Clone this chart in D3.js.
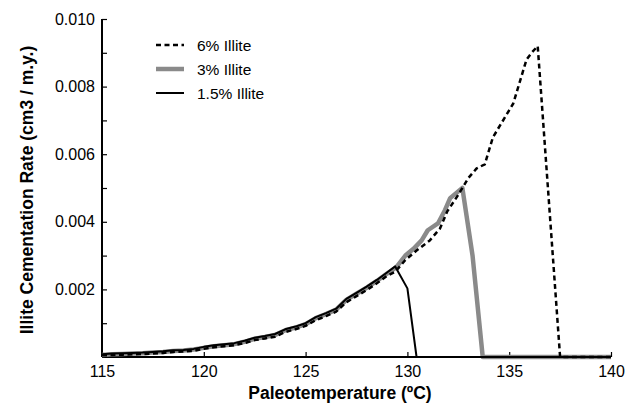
<!DOCTYPE html>
<html>
<head>
<meta charset="utf-8">
<script src="https://cdn.jsdelivr.net/npm/d3@7"></script>
<style>
  body { margin: 0; background: #fff; }
  text { font-family: "Liberation Sans", Arial, sans-serif; }
</style>
</head>
<body>
<svg width="639" height="405"></svg>
<script>
// 1.5% illite
var temp15 = [115, 115.5, 116, 116.5, 117, 117.5, 118, 118.5, 119, 119.5, 120, 120.5, 121, 121.5, 122, 122.5, 123, 123.5, 124, 124.5, 125, 125.5, 126, 126.5, 127, 127.5, 128, 128.5, 129, 129.4, 130, 130.45, 140];
var rate15 = [0.00008, 0.0001, 0.00011, 0.00012, 0.00013, 0.00015, 0.00017, 0.0002, 0.00021, 0.00024, 0.0003, 0.00035, 0.00038, 0.00041, 0.00048, 0.00057, 0.00062, 0.00068, 0.00082, 0.0009, 0.001, 0.00118, 0.0013, 0.00143, 0.00172, 0.0019, 0.00208, 0.00228, 0.0025, 0.00268, 0.00203, 0, 0];

// 3% illite
var temp3 = [115, 115.5, 116, 116.5, 117, 117.5, 118, 118.5, 119, 119.5, 120, 120.5, 121, 121.5, 122, 122.5, 123, 123.5, 124, 124.5, 125, 125.5, 126, 126.5, 127, 127.5, 128, 128.5, 129, 129.45, 129.9, 130.3, 130.7, 131.0, 131.5, 131.85, 132.1, 132.7, 133.2, 133.7, 140];
var rate3 = [0.00006, 0.00008, 0.00009, 0.0001, 0.00011, 0.00013, 0.00015, 0.00018, 0.00019, 0.00022, 0.00027, 0.00032, 0.00035, 0.00038, 0.00045, 0.00054, 0.00059, 0.00065, 0.00079, 0.00087, 0.00097, 0.00115, 0.00127, 0.0014, 0.00169, 0.00187, 0.00205, 0.00225, 0.00247, 0.00265, 0.003, 0.0032, 0.00345, 0.00375, 0.00395, 0.00435, 0.0047, 0.005, 0.003, 0, 0];

// 6% illite
var temp6 = [115, 115.5, 116, 116.5, 117, 117.5, 118, 118.5, 119, 119.5, 120, 120.5, 121, 121.5, 122, 122.5, 123, 123.5, 124, 124.5, 125, 125.5, 126, 126.5, 127, 127.5, 128, 128.5, 129, 129.4, 129.9, 130.45, 131.1, 131.6, 131.95, 132.5, 133.0, 133.4, 133.8, 134.2, 134.6, 135.2, 135.5, 135.85, 136.1, 136.4, 137.5, 140];
var rate6 = [0.00005, 0.00006, 0.00007, 0.00008, 0.00009, 0.0001, 0.00012, 0.00015, 0.00016, 0.00018, 0.00024, 0.00029, 0.00032, 0.00035, 0.00041, 0.0005, 0.00055, 0.0006, 0.00074, 0.00082, 0.00092, 0.00109, 0.00121, 0.00134, 0.00162, 0.0018, 0.00198, 0.00218, 0.0024, 0.00252, 0.00287, 0.00315, 0.00345, 0.0038, 0.0043, 0.0048, 0.0053, 0.00558, 0.0057, 0.0065, 0.0069, 0.0075, 0.0081, 0.0088, 0.009, 0.0092, 0, 0];

var seriesNames = ["6% Illite", "3% Illite", "1.5% Illite"];
var xTicks = [115, 120, 125, 130, 135, 140];
var yTicks = [0.001, 0.002, 0.003, 0.004, 0.005, 0.006, 0.007, 0.008, 0.009, 0.010];
var yLabelTicks = [0.002, 0.004, 0.006, 0.008, 0.010];

var svg = d3.select("svg"),
    margin = {top: 19, right: 28, bottom: 48, left: 102},
    width = +svg.attr("width") - margin.left - margin.right,
    height = +svg.attr("height") - margin.top - margin.bottom,
    g = svg.append("g").attr("transform", "translate(" + margin.left + "," + margin.top + ")");

var x = d3.scaleLinear().domain([115, 140]).range([0, width]);
var y = d3.scaleLinear().domain([0, 0.010]).range([height, 0]);

var styles = [
    {stroke: "#000", width: 2.5, dash: "5,3.5"},
    {stroke: "#8a8a8a", width: 4.5, dash: null},
    {stroke: "#000", width: 2, dash: null}
];

// axes
var xAxis = g.append("g")
    .attr("transform", "translate(0," + height + ")")
    .call(d3.axisBottom(x).tickValues(xTicks).tickSizeInner(-5).tickSizeOuter(0).tickPadding(9));
var yAxis = g.append("g")
    .call(d3.axisLeft(y).tickValues(yTicks).tickSizeInner(-5).tickSizeOuter(0).tickPadding(7)
        .tickFormat(function (d) { return yLabelTicks.some(function (v) { return Math.abs(v - d) < 1e-9; }) ? d3.format(".3f")(d) : ""; }));
[xAxis, yAxis].forEach(function (a) {
    a.select(".domain").attr("stroke", "#000").attr("stroke-width", 2);
    a.selectAll(".tick line").attr("stroke", "#000").attr("stroke-width", 1.2);
    a.selectAll(".tick text").attr("fill", "#000").style("font-size", "16px").style("font-family", "'Liberation Sans', Arial, sans-serif");
});
yAxis.select(".domain").attr("d", "M0," + height + "V0");
xAxis.select(".domain").attr("d", "M0,0H" + width);

var line = d3.line()
    .x(function (d) { return x(d[0]); })
    .y(function (d) { return y(d[1]); });

var data = [
    d3.zip(temp6, rate6),
    d3.zip(temp3, rate3),
    d3.zip(temp15, rate15)
];

// draw grey first, then dashed, then black
[1, 0, 2].forEach(function (i) {
    g.append("path")
        .datum(data[i])
        .attr("fill", "none")
        .attr("stroke", styles[i].stroke)
        .attr("stroke-width", styles[i].width)
        .attr("stroke-dasharray", styles[i].dash)
        .attr("stroke-linejoin", "round")
        .attr("d", line);
});

// legend
var legend = svg.append("g").attr("transform", "translate(156,45)");
seriesNames.forEach(function (name, i) {
    var row = legend.append("g").attr("transform", "translate(0," + (i * 24) + ")");
    row.append("line")
        .attr("x1", 0).attr("x2", 28)
        .attr("stroke", styles[i].stroke)
        .attr("stroke-width", styles[i].width)
        .attr("stroke-dasharray", styles[i].dash);
    row.append("text")
        .attr("x", 41)
        .attr("y", 5.5)
        .style("font-size", "15.5px")
        .text(name);
});

// axis titles
svg.append("text")
    .attr("x", 340)
    .attr("y", 399)
    .attr("text-anchor", "middle")
    .style("font-size", "17.5px")
    .style("font-weight", "bold")
    .text("Paleotemperature (ºC)");

svg.append("text")
    .attr("transform", "translate(33,190) rotate(-90)")
    .attr("text-anchor", "middle")
    .style("font-size", "17.5px")
    .style("font-weight", "bold")
    .text("Illite Cementation Rate (cm3 / m.y.)");
</script>
</body>
</html>
